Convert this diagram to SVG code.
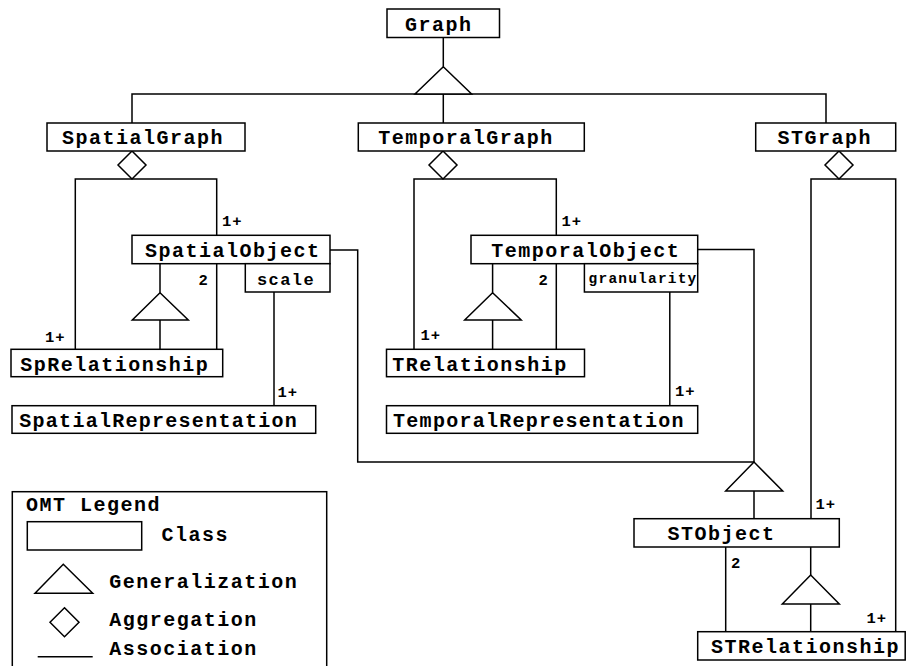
<svg xmlns="http://www.w3.org/2000/svg" width="907" height="666" viewBox="0 0 907 666">
  <style>
    .box { fill: #fff; stroke: #000; stroke-width: 1.5; }
    .ln { fill: none; stroke: #000; stroke-width: 1.5; }
    .sym { fill: #fff; stroke: #000; stroke-width: 1.5; stroke-linejoin: miter; }
    .t { font-family: "Liberation Mono", "Courier New", monospace; font-weight: bold; font-size: 20px; letter-spacing: 1.5px; fill: #000; }
    .lbl { font-family: "Liberation Mono", "Courier New", monospace; font-weight: bold; font-size: 15.5px; letter-spacing: 1px; fill: #000; }
    .attr { font-family: "Liberation Mono", "Courier New", monospace; font-weight: bold; fill: #000; }
  </style>
  <rect width="907" height="666" fill="#fff"/>

  <!-- connectors: associations, generalizations and aggregations -->
  <g id="connectors">
    <!-- Graph generalization -->
    <path class="ln" d="M443.3 37.5 V66.7 M132 123 V94 H826 V123 M443.3 94 V123"/>
    <polygon class="sym" points="443.3,66.7 415,94 471.6,94"/>

    <!-- SpatialGraph aggregation -->
    <path class="ln" d="M75.3 349.3 V179 H216.7 V235.3 M216.7 263.7 V349.3"/>
    <polygon class="sym" points="132,151 146,165 132,179 118,165"/>
    <!-- SpatialObject generalization -->
    <path class="ln" d="M160 263.7 V292.7 M160 320 V349.3"/>
    <polygon class="sym" points="160,292.7 132.3,320 188.3,320"/>
    <!-- scale qualifier -->
    <path class="ln" d="M274 292 V405.7"/>
    <!-- SpatialObject to STObject -->
    <path class="ln" d="M330 250 H357.7 V462 H754"/>

    <!-- TemporalGraph aggregation -->
    <path class="ln" d="M414 349.3 V179 H556.3 V235.3 M556.3 263.7 V349.3"/>
    <polygon class="sym" points="443,151 457,165 443,179 429,165"/>
    <!-- TemporalObject generalization -->
    <path class="ln" d="M492.6 263.7 V292.7 M492.6 320 V349.3"/>
    <polygon class="sym" points="492.6,292.7 464.7,320 521.2,320"/>
    <!-- granularity qualifier -->
    <path class="ln" d="M669.8 292 V405.7"/>
    <!-- TemporalObject to STObject -->
    <path class="ln" d="M697.7 249.5 H754 V462 M754 491 V518.7"/>
    <polygon class="sym" points="754,462 725.7,491 782.7,491"/>

    <!-- STGraph aggregation -->
    <path class="ln" d="M811 518.7 V179 H895.7 V631.7"/>
    <polygon class="sym" points="839,151 853,165 839,179 825,165"/>
    <!-- STObject links -->
    <path class="ln" d="M725.7 547 V631.7 M810.7 547 V575 M810.7 604 V631.7"/>
    <polygon class="sym" points="810.7,575 782.3,604 839.3,604"/>

    <!-- multiplicities -->
    <text class="lbl" x="222" y="226">1+</text>
    <text class="lbl" x="45" y="341.5">1+</text>
    <text class="lbl" x="198.5" y="285">2</text>
    <text class="lbl" x="277.5" y="396.5">1+</text>
    <text class="lbl" x="561.5" y="226">1+</text>
    <text class="lbl" x="420.5" y="339.5">1+</text>
    <text class="lbl" x="538.5" y="284.5">2</text>
    <text class="lbl" x="675" y="395.5">1+</text>
    <text class="lbl" x="815.5" y="509.3">1+</text>
    <text class="lbl" x="731" y="568.3">2</text>
    <text class="lbl" x="866.5" y="622.7">1+</text>
  </g>

  <g id="Graph">
    <rect class="box" x="387" y="9" width="112.5" height="28.5"/>
    <text class="t" x="405" y="31">Graph</text>
  </g>
  <g id="SpatialGraph">
    <rect class="box" x="47" y="123" width="198" height="28"/>
    <text class="t" x="62" y="144">SpatialGraph</text>
  </g>
  <g id="TemporalGraph">
    <rect class="box" x="358.3" y="123" width="226" height="28"/>
    <text class="t" x="378.3" y="144">TemporalGraph</text>
  </g>
  <g id="STGraph">
    <rect class="box" x="755.7" y="123" width="140" height="28"/>
    <text class="t" x="777.6" y="144">STGraph</text>
  </g>
  <g id="SpatialObject">
    <rect class="box" x="132" y="235.3" width="198" height="28.4"/>
    <text class="t" x="145" y="256.5">SpatialObject</text>
    <rect class="box" x="245.3" y="263.7" width="84.7" height="28.3"/>
    <text class="attr" x="257" y="284.5" font-size="17" letter-spacing="1.4">scale</text>
  </g>
  <g id="SpRelationship">
    <rect class="box" x="11" y="349.3" width="211.7" height="27.4"/>
    <text class="t" x="20.3" y="370.5">SpRelationship</text>
  </g>
  <g id="SpatialRepresentation">
    <rect class="box" x="12" y="405.7" width="303.7" height="27.6"/>
    <text class="t" x="19.3" y="427" textLength="279" lengthAdjust="spacing">SpatialRepresentation</text>
  </g>
  <g id="TemporalObject">
    <rect class="box" x="471" y="235.3" width="226.7" height="28.4"/>
    <text class="t" x="491.2" y="256.5">TemporalObject</text>
    <rect class="box" x="584.4" y="263.7" width="113.3" height="28.3"/>
    <text class="attr" x="588.6" y="283" font-size="14.5" letter-spacing="1.2">granularity</text>
  </g>
  <g id="TRelationship">
    <rect class="box" x="386.5" y="349.3" width="198" height="27.4"/>
    <text class="t" x="392.3" y="370.5">TRelationship</text>
  </g>
  <g id="TemporalRepresentation">
    <rect class="box" x="386.5" y="405.7" width="311.2" height="27.6"/>
    <text class="t" x="393.1" y="427" textLength="292" lengthAdjust="spacing">TemporalRepresentation</text>
  </g>
  <g id="STObject">
    <rect class="box" x="634" y="518.7" width="205.3" height="28.3"/>
    <text class="t" x="667.6" y="540">STObject</text>
  </g>
  <g id="STRelationship">
    <rect class="box" x="697.7" y="631.7" width="207.5" height="28.3"/>
    <text class="t" x="711" y="653">STRelationship</text>
  </g>

  <!-- notation key -->
  <g id="legend">
    <rect class="box" x="12.3" y="491.7" width="314.4" height="200"/>
    <text class="t" x="26" y="511">OMT Legend</text>
    <rect class="box" x="27.3" y="521.7" width="114.4" height="28.3"/>
    <text class="t" x="161.6" y="541">Class</text>
    <polygon class="sym" points="63.3,564.3 35,593.3 92.7,593.3"/>
    <text class="t" x="109.3" y="588">Generalization</text>
    <polygon class="sym" points="64.5,607.7 79,622.2 64.5,636.7 50,622.2"/>
    <text class="t" x="109.3" y="626">Aggregation</text>
    <path class="ln" d="M37.7 656.7 H92.7"/>
    <text class="t" x="109.3" y="655">Association</text>
  </g>
</svg>
